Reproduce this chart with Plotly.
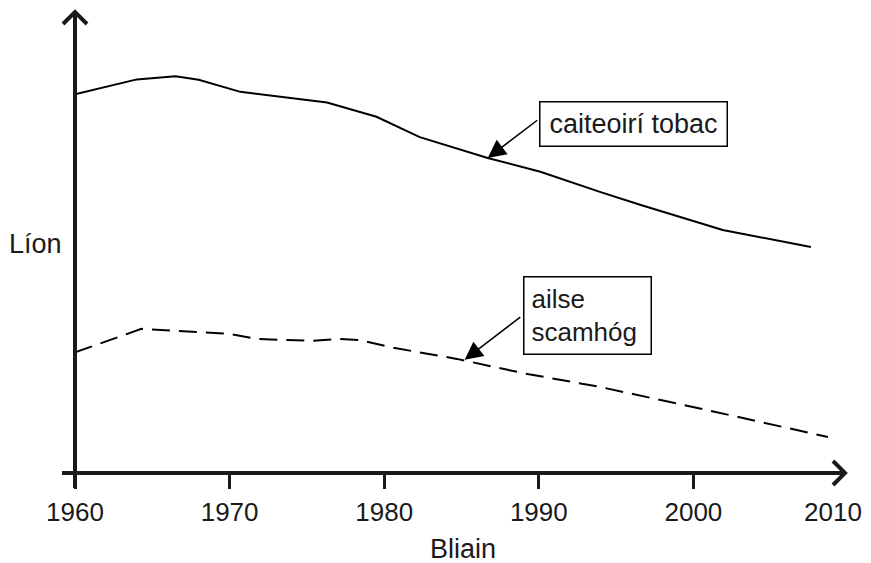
import plotly.graph_objects as go

# ---- data (arbitrary "Líon" units 0-100) ----
smokers_years = [1960, 1964.0, 1966.5, 1968.0, 1970.7, 1976.3, 1979.5, 1982.3, 1986.7, 1990.1, 1994.0, 1996.6, 2001.9, 2007.6]
smokers_vals  = [82.0, 85.2, 85.9, 85.1, 82.5, 80.2, 77.1, 72.7, 68.2, 65.2, 60.8, 58.0, 52.6, 48.9]

cancer_years = [1960, 1964.3, 1970.0, 1971.8, 1975.4, 1977.0, 1978.4, 1980.6, 1984.7, 1989.0, 1994.0, 2000.5, 2008.7]
cancer_vals  = [26.1, 31.2, 30.1, 29.0, 28.6, 29.0, 28.8, 27.1, 24.7, 21.6, 18.6, 13.9, 7.8]

tick_years  = [1960, 1970, 1980, 1990, 2000]
tick_labels = ["1960", "1970", "1980", "1990", "2000"]
end_year, end_label = 2010, "2010"

label_smokers = "caiteoirí tobac"
label_cancer = "ailse<br>scamhóg"
x_title = "Bliain"
y_title = "Líon"

# ---- layout geometry (page pixels; the page body has an 8px margin) ----
OFF = 8
PAGE_W, PAGE_H = 871, 563
X0, X1 = 75, 848      # page x of 1960 and 2010
Y0, Y1 = 473, 11      # page y of value 0 and 100
W, H = PAGE_W - OFF, PAGE_H - OFF
L, T = X0 - OFF, Y1 - OFF
R, B = W + OFF - X1, PAGE_H - Y0
PW, PH = X1 - X0, Y0 - Y1
FONT = "Liberation Sans, Arial, sans-serif"
INK = "#1a1a1a"

def px(x):
    return (x - X0) / PW

def py(y):
    return (Y0 - y) / PH

fig = go.Figure()
fig.add_trace(go.Scatter(x=smokers_years, y=smokers_vals, mode="lines",
                         line=dict(color="black", width=2), showlegend=False, hoverinfo="skip"))
fig.add_trace(go.Scatter(x=cancer_years, y=cancer_vals, mode="lines",
                         line=dict(color="black", width=2, dash="18px,9px"), showlegend=False, hoverinfo="skip"))
# empty trace so that the secondary x axis (carrying the end label) is drawn
fig.add_trace(go.Scatter(x=[end_year], y=[None], xaxis="x2", yaxis="y", mode="lines",
                         showlegend=False, hoverinfo="skip"))

shapes = [
    dict(type="line", xref="paper", yref="paper", x0=px(62), x1=px(845), y0=0, y1=0,
         line=dict(color=INK, width=4)),
    dict(type="line", xref="paper", yref="paper", x0=0, x1=0, y0=py(488), y1=py(12),
         line=dict(color=INK, width=4)),
    dict(type="path", xref="paper", yref="paper",
         path=f"M {px(63)} {py(24)} L {px(75)} {py(12)} L {px(87)} {py(24)}",
         line=dict(color=INK, width=4)),
    dict(type="path", xref="paper", yref="paper",
         path=f"M {px(833)} {py(461)} L {px(845)} {py(473)} L {px(833)} {py(485)}",
         line=dict(color=INK, width=4)),
]

annotations = [
    dict(xref="paper", yref="paper", x=px(633), y=py(123.5), text=label_smokers,
         showarrow=False, font=dict(family=FONT, size=27, color=INK),
         bordercolor="black", borderwidth=1.5, borderpad=0, bgcolor="white",
         width=186, height=43, align="center", xanchor="center", yanchor="middle"),
    dict(xref="paper", yref="paper", x=px(587.5), y=py(315.5), text=label_cancer,
         showarrow=False, font=dict(family=FONT, size=26, color=INK),
         bordercolor="black", borderwidth=1.5, borderpad=7, bgcolor="white",
         width=112, height=62, align="left", xanchor="center", yanchor="middle"),
    dict(x=smokers_years[8], y=smokers_vals[8], xref="x", yref="y", text="",
         showarrow=True, axref="x", ayref="y", ax=1990.0, ay=76.6,
         arrowhead=2, arrowsize=2.4, arrowwidth=1.5, arrowcolor="black", standoff=0),
    dict(x=1985.2, y=24.5, xref="x", yref="y", text="",
         showarrow=True, axref="x", ayref="y", ax=1988.9, ay=34.0,
         arrowhead=2, arrowsize=2.4, arrowwidth=1.5, arrowcolor="black", standoff=0),
    dict(xref="paper", yref="paper", x=px(463), y=py(549), text=x_title, showarrow=False,
         font=dict(family=FONT, size=27, color=INK), xanchor="center", yanchor="middle"),
    dict(xref="paper", yref="paper", x=px(7), y=py(244), text=y_title, showarrow=False,
         font=dict(family=FONT, size=27, color=INK), xanchor="left", yanchor="middle"),
]

fig.update_layout(
    width=W, height=H,
    margin=dict(l=L, r=R, t=T, b=B, autoexpand=False),
    paper_bgcolor="white", plot_bgcolor="white",
    shapes=shapes, annotations=annotations,
    showlegend=False,
    xaxis=dict(range=[1960, 2010], tickvals=tick_years, ticktext=tick_labels,
               ticks="outside", ticklen=15, tickwidth=3, tickcolor=INK,
               showgrid=False, zeroline=False, showline=False,
               ticklabelstandoff=1, ticklabeloverflow="allow",
               tickfont=dict(family=FONT, size=26, color=INK), fixedrange=True),
    xaxis2=dict(range=[1960, 2010], overlaying="x", anchor="y", side="bottom",
                tickvals=[end_year], ticktext=[end_label],
                ticks="outside", ticklen=15, tickwidth=3, tickcolor="rgba(0,0,0,0)",
                showgrid=False, zeroline=False, showline=False,
                ticklabelstandoff=1, ticklabelshift=-15, ticklabeloverflow="allow",
                tickfont=dict(family=FONT, size=26, color=INK), fixedrange=True),
    yaxis=dict(range=[0, 100], showticklabels=False, ticks="", showgrid=False,
               zeroline=False, showline=False, fixedrange=True),
)

fig.write_html("out.html", config={"displayModeBar": False})
